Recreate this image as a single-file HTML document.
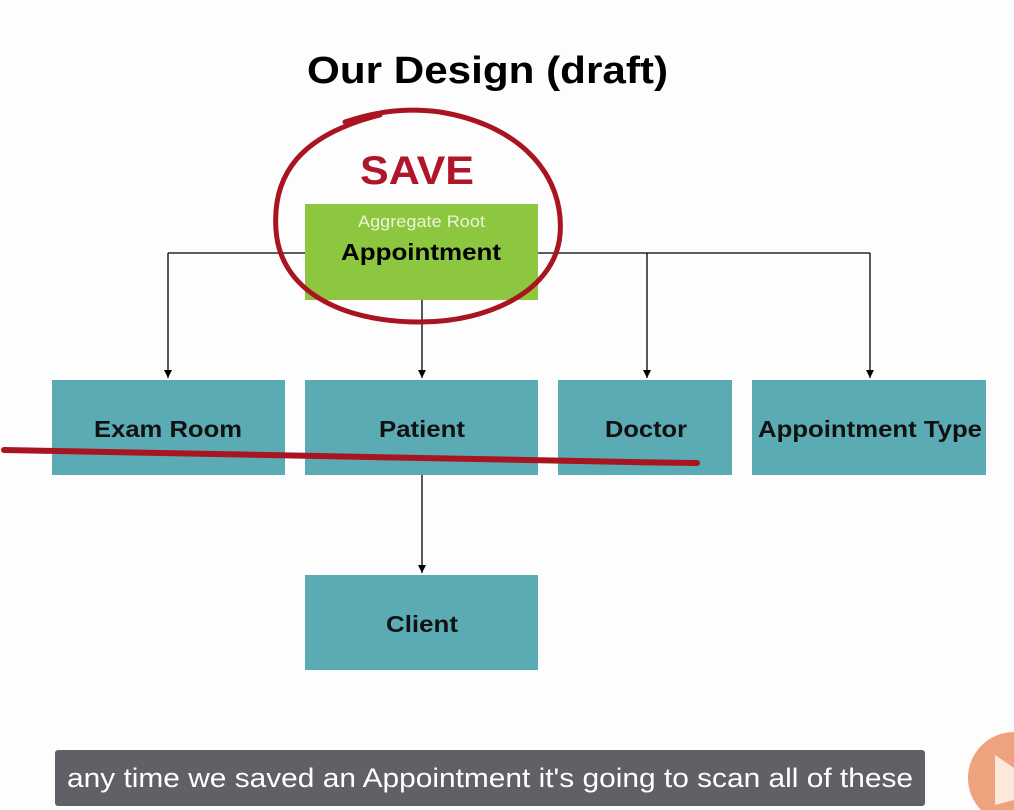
<!DOCTYPE html>
<html><head><meta charset="utf-8"><style>
html,body{margin:0;padding:0;background:#fdfdfd;width:1014px;height:810px;overflow:hidden}
svg{display:block}
text{font-family:"Liberation Sans",Arial,sans-serif}
</style></head><body>
<svg width="1014" height="810" viewBox="0 0 1014 810">
<defs><marker id="a" markerWidth="8" markerHeight="8" refX="8" refY="4" orient="auto" markerUnits="userSpaceOnUse"><path d="M0,0 L8,4 L0,8 z" fill="#000"/></marker></defs>
<rect width="1014" height="810" fill="#fdfdfd"/>
<text x="307" y="83" font-size="38" font-weight="bold" fill="#000" textLength="361" lengthAdjust="spacingAndGlyphs">Our Design (draft)</text>
<text x="360" y="184" font-size="40" font-weight="bold" fill="#b0162a" textLength="114" lengthAdjust="spacingAndGlyphs">SAVE</text>
<g stroke="#000" stroke-width="1.3" fill="none">
<path d="M168,253 H870"/>
<path d="M168,253 V378" marker-end="url(#a)"/>
<path d="M422,300 V378" marker-end="url(#a)"/>
<path d="M647,253 V378" marker-end="url(#a)"/>
<path d="M870,253 V378" marker-end="url(#a)"/>
<path d="M422,475 V573" marker-end="url(#a)"/>
</g>
<rect x="305" y="204" width="233" height="96" fill="#8dc63f"/>
<text x="358" y="227" font-size="17" fill="#eaf5d6" textLength="127" lengthAdjust="spacingAndGlyphs">Aggregate Root</text>
<text x="341" y="260" font-size="23" font-weight="bold" fill="#000" textLength="160" lengthAdjust="spacingAndGlyphs">Appointment</text>
<g fill="#5aabb4">
<rect x="52" y="380" width="233" height="95"/>
<rect x="305" y="380" width="233" height="95"/>
<rect x="558" y="380" width="174" height="95"/>
<rect x="752" y="380" width="234" height="95"/>
<rect x="305" y="575" width="233" height="95"/>
</g>
<g font-size="23" font-weight="bold" fill="#111" lengthAdjust="spacingAndGlyphs">
<text x="94" y="437" textLength="148" lengthAdjust="spacingAndGlyphs">Exam Room</text>
<text x="379" y="437" textLength="86" lengthAdjust="spacingAndGlyphs">Patient</text>
<text x="605" y="437" textLength="82" lengthAdjust="spacingAndGlyphs">Doctor</text>
<text x="758" y="437" textLength="224" lengthAdjust="spacingAndGlyphs">Appointment Type</text>
<text x="386" y="632" textLength="72" lengthAdjust="spacingAndGlyphs">Client</text>
</g>
<g fill="none" stroke="#a8141f" stroke-width="5" stroke-linecap="round">
<path d="M345,122 C380,110 410,108 440,112 C520,125 565,175 560,235 C555,290 490,322 420,322 C340,322 280,290 276,230 C272,175 300,135 380,115"/>
<path d="M4,450 C200,455 450,460 697,463" stroke-width="6"/>
</g>
<rect x="55" y="750" width="870" height="56" rx="3" fill="#5f6166"/>
<text x="67" y="787" font-size="27" fill="#fff" textLength="846" lengthAdjust="spacingAndGlyphs">any time we saved an Appointment it's going to scan all of these</text>
<circle cx="1014" cy="778" r="46" fill="#eea27e"/>
<path d="M995,755 L1014,768 L1014,800 L995,805 z" fill="#fde9dc"/>
</svg>
</body></html>
